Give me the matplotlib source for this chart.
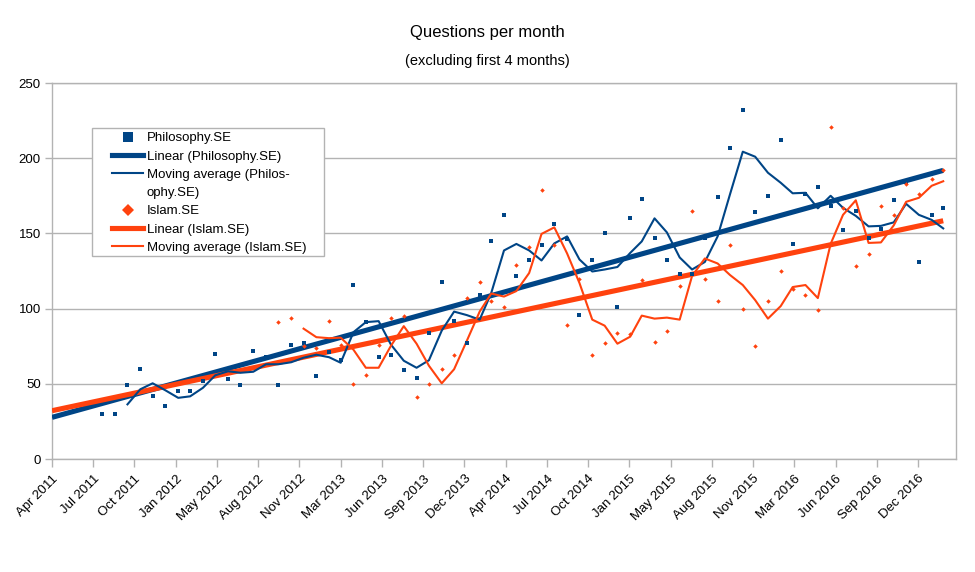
import numpy as np
import pandas as pd
import matplotlib
matplotlib.use("Agg")
import matplotlib.pyplot as plt
import matplotlib.dates as mdates
from matplotlib.lines import Line2D
from matplotlib.patches import Rectangle

plt.rcParams['font.family'] = ['Liberation Sans', 'DejaVu Sans']

# ---- data ----
phil_start = "2011-08-01"
phil_values = [30, 30, 49, 60, 42, 35, 45, 45, 52, 70, 53, 49,
               72, 68, 49, 76, 77, 55, 71, 66, 116, 91, 68, 69,
               59, 54, 84, 118, 92, 77, 109, 145, 162, 122, 132, 142,
               156, 146, 96, 132, 150, 101, 160, 173, 147, 132, 123, 123,
               147, 174, 207, 232, 164, 175, 212, 143, 176, 181, 168, 152,
               165, 147, 153, 172, 184, 131, 162, 167]
islam_start = "2012-10-01"
islam_values = [91, 94, 75, 74, 92, 76, 50, 56, 76, 94, 95, 41,
                50, 60, 69, 107, 118, 105, 101, 129, 141, 179, 142, 89,
                120, 69, 77, 84, 83, 119, 78, 85, 115, 165, 120, 105,
                142, 100, 75, 105, 125, 113, 109, 99, 221, 167, 128, 136,
                168, 162, 183, 176, 186, 192]
axis_start = "2011-04-01"
axis_end = "2017-04-01"
ma_period = 3
legend_labels = ["Philosophy.SE", "Linear (Philosophy.SE)", "Moving average (Philos-",
                 "ophy.SE)", "Islam.SE", "Linear (Islam.SE)", "Moving average (Islam.SE)"]

blue = "#004586"
orange = "#ff420e"
grey = "#b3b3b3"

phil = pd.Series(phil_values, index=pd.date_range(phil_start, periods=len(phil_values), freq="MS"))
islam = pd.Series(islam_values, index=pd.date_range(islam_start, periods=len(islam_values), freq="MS"))

W, H = 975, 572
fig = plt.figure(figsize=(W/100, H/100), dpi=100)
ax = fig.add_axes([52/W, 1-459/H, (956-52)/W, (459-83)/H])

x0 = mdates.date2num(pd.Timestamp(axis_start))
x1 = mdates.date2num(pd.Timestamp(axis_end))


def draw(series, color, marker, ms):
    xn = mdates.date2num(series.index)
    yv = series.values.astype(float)
    coef = np.polyfit(xn, yv, 1)
    tx = np.array([x0, xn[-1]])
    ax.plot(tx, np.polyval(coef, tx), color=color, lw=3.7, solid_capstyle='butt', zorder=3)
    ma = series.rolling(ma_period).mean()
    ax.plot(mdates.date2num(ma.index), ma.values, color=color, lw=1.5, zorder=4)
    ax.plot(xn, yv, linestyle='none', marker=marker, ms=ms, color=color,
            markeredgewidth=0, zorder=5)


draw(phil, blue, 's', 3.2)
draw(islam, orange, 'D', 2.3)

ax.set_xlim(x0, x1)
ax.set_ylim(0, 250)
ax.set_yticks(np.arange(0, 251, 50))
ticks = [x0 + 100*k for k in range(22)]
ax.xaxis.set_major_locator(matplotlib.ticker.FixedLocator(ticks))
ax.xaxis.set_major_formatter(mdates.DateFormatter('%b %Y'))
for lab in ax.get_xticklabels():
    lab.set_rotation(45)
    lab.set_ha('right')
    lab.set_va('top')
    lab.set_rotation_mode('anchor')
ax.tick_params(axis='x', length=6, width=1, color=grey, labelsize=9.5, pad=4)
ax.tick_params(axis='y', length=5, width=1, color=grey, labelsize=9.5, pad=3)
ax.yaxis.grid(True, color=grey, lw=1)
ax.set_axisbelow(True)
for s in ax.spines.values():
    s.set_color(grey)
    s.set_linewidth(1)

# legend
frame = Rectangle((92/W, 1-256/H), (324-92)/W, (256-128)/H, transform=fig.transFigure,
                  facecolor='white', edgecolor=grey, lw=1, zorder=2)
fig.add_artist(frame)
handles = [
    Line2D([], [], linestyle='none', marker='s', ms=6.5, color=blue, markeredgewidth=0),
    Line2D([], [], color=blue, lw=3.7),
    Line2D([], [], color=blue, lw=1.5),
    Line2D([], [], linestyle='none', marker='none'),
    Line2D([], [], linestyle='none', marker='D', ms=6, color=orange, markeredgewidth=0),
    Line2D([], [], color=orange, lw=3.7),
    Line2D([], [], color=orange, lw=1.5),
]
leg = fig.legend(handles, legend_labels, loc='upper left', bbox_to_anchor=(112/W, 1-132/H),
                 bbox_transform=fig.transFigure, borderaxespad=0, borderpad=0,
                 fontsize=9.5, frameon=False, handlelength=2.35, handletextpad=0.3,
                 labelspacing=0.46)
leg.set_zorder(5)

fig.text(487/W, 1-32/H, "Questions per month", ha='center', va='center', fontsize=12)
fig.text(487/W, 1-61/H, "(excluding first 4 months)", ha='center', va='center', fontsize=10.5)

fig.savefig("out.png", dpi=100)
